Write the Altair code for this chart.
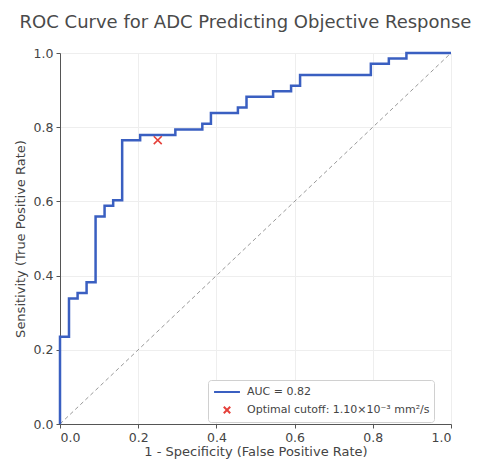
import altair as alt
import pandas as pd

# ROC curve corner points
fpr = [0.0, 0.0, 0.023, 0.023, 0.045, 0.045, 0.068, 0.068, 0.091, 0.091,
       0.114, 0.114, 0.136, 0.136, 0.159, 0.159, 0.205, 0.205, 0.295, 0.295,
       0.364, 0.364, 0.386, 0.386, 0.455, 0.455, 0.477, 0.477, 0.545, 0.545,
       0.591, 0.591, 0.614, 0.614, 0.795, 0.795, 0.841, 0.841, 0.886, 0.886, 1.0]
tpr = [0.0, 0.235, 0.235, 0.338, 0.338, 0.353, 0.353, 0.382, 0.382, 0.559,
       0.559, 0.588, 0.588, 0.603, 0.603, 0.765, 0.765, 0.779, 0.779, 0.794,
       0.794, 0.809, 0.809, 0.838, 0.838, 0.853, 0.853, 0.882, 0.882, 0.897,
       0.897, 0.912, 0.912, 0.941, 0.941, 0.971, 0.971, 0.985, 0.985, 1.0, 1.0]

cut_fpr = [0.25]
cut_tpr = [0.765]

diag_x = [0.0, 1.0]
diag_y = [0.0, 1.0]

series_labels = ["AUC = 0.82", "Optimal cutoff: 1.10×10⁻³ mm²/s"]
tick_values = [0.0, 0.2, 0.4, 0.6, 0.8, 1.0]

title_text = "ROC Curve for ADC Predicting Objective Response"
x_title = "1 - Specificity (False Positive Rate)"
y_title = "Sensitivity (True Positive Rate)"

BLUE = "#3a5fc1"
RED = "#e5403a"
FONT = "DejaVu Sans"

roc_df = pd.DataFrame({"fpr": fpr, "tpr": tpr, "i": list(range(len(fpr)))})
cut_df = pd.DataFrame({"fpr": cut_fpr, "tpr": cut_tpr, "series": [series_labels[1]]})
diag_df = pd.DataFrame({"fpr": diag_x, "tpr": diag_y})

xscale = alt.Scale(domain=[0, 1], nice=False, zero=False)
yscale = alt.Scale(domain=[0, 1], nice=False, zero=False)

xaxis = alt.Axis(values=tick_values, format=".1f", title=x_title, titlePadding=2)
yaxis = alt.Axis(values=tick_values, format=".1f", title=y_title, titlePadding=6)

diag = alt.Chart(diag_df).mark_line(
    color="#999999", strokeDash=[4, 3], strokeWidth=1
).encode(
    x=alt.X("fpr:Q", scale=xscale, axis=xaxis),
    y=alt.Y("tpr:Q", scale=yscale, axis=yaxis),
)

roc = alt.Chart(roc_df).mark_line(color=BLUE, strokeWidth=2.5).encode(
    x=alt.X("fpr:Q", scale=xscale, axis=xaxis),
    y=alt.Y("tpr:Q", scale=yscale, axis=yaxis),
    order="i:Q",
)

line_path = "M-1.85,0L1.85,0"
cross_path = "M-0.46,-0.46L0.46,0.46M-0.46,0.46L0.46,-0.46"

legend = alt.Legend(
    title=None,
    orient="none",
    legendX=148,
    legendY=327,
    labelFont=FONT,
    labelFontSize=11,
    labelColor="#444444",
    labelLimit=400,
    symbolSize=196,
    symbolStrokeWidth=2,
    symbolOffset=7,
    labelOffset=12,
    padding=4,
    rowPadding=5,
    strokeColor="#d0d0d0",
    fillColor="white",
    cornerRadius=3,
)

pt = alt.Chart(cut_df).mark_point(filled=False, strokeWidth=1.6, size=300, opacity=1).encode(
    x=alt.X("fpr:Q", scale=xscale, axis=xaxis),
    y=alt.Y("tpr:Q", scale=yscale, axis=yaxis),
    color=alt.Color("series:N", scale=alt.Scale(domain=series_labels, range=[BLUE, RED]), legend=legend),
    shape=alt.Shape("series:N", scale=alt.Scale(domain=series_labels, range=[line_path, cross_path]), legend=legend),
)

chart = alt.layer(diag, roc, pt).properties(
    width=391,
    height=371,
    padding={"left": 52, "top": 45, "right": 34, "bottom": 35},
    autosize=alt.AutoSizeParams(type="none"),
    title=alt.TitleParams(
        title_text, fontSize=18, font=FONT, color="#4a4a4a", fontWeight="normal",
        anchor="middle", dx=-10, offset=14, dy=17, baseline="bottom",
    ),
).configure_view(stroke=None).configure_axis(
    labelFont=FONT, titleFont=FONT, labelFontSize=12.5, titleFontSize=13,
    labelColor="#444444", titleColor="#444444", titleFontWeight="normal",
    domainColor="#555555", tickColor="#555555", tickSize=4, labelPadding=3,
    gridColor="#eeeeee",
)

chart.save("out.html", embed_options={"renderer": "svg", "actions": False})
